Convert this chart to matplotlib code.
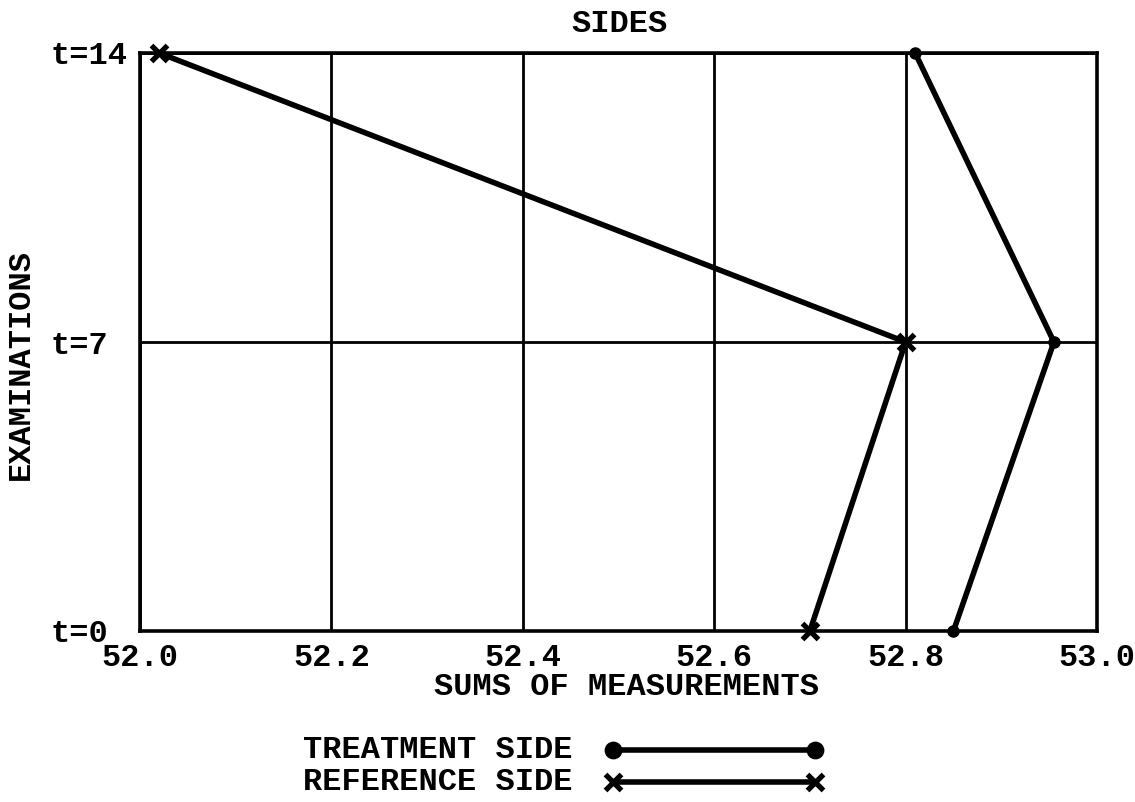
import numpy as np
import matplotlib
matplotlib.use('Agg')
import matplotlib.pyplot as plt
from matplotlib.lines import Line2D

# 各次检查的求和测量值
exam_t = [0, 7, 14]
exam_labels = ['t=0', 't=7', 't=14']
treatment_side = [52.85, 52.955, 52.81]
reference_side = [52.70, 52.80, 52.02]
x_ticks = [52.0, 52.2, 52.4, 52.6, 52.8, 53.0]

plt.rcParams['font.family'] = ['Liberation Mono', 'DejaVu Sans Mono']
plt.rcParams['font.weight'] = 'bold'
FS = 23

W, H = 1135, 802
fig = plt.figure(figsize=(W / 100, H / 100), dpi=100)
ax = fig.add_axes([140 / W, 1 - 631 / H, 957 / W, 578 / H])

ax.plot(treatment_side, exam_t, color='black', lw=4, marker='o', ms=8,
        clip_on=False, zorder=5)
ax.plot(reference_side, exam_t, color='black', lw=4, marker='x', ms=12,
        mew=3.8, clip_on=False, zorder=5)

ax.set_xlim(52.0, 53.0)
ax.set_ylim(0, 14)
ax.set_xticks(x_ticks)
ax.set_xticklabels([f'{v:.1f}' for v in x_ticks], fontsize=FS)
ax.set_yticks(exam_t)
ax.set_yticklabels(exam_labels, fontsize=FS)
for lab in ax.get_yticklabels():
    lab.set_horizontalalignment('left')
ax.tick_params(axis='x', length=0, pad=9)
ax.tick_params(axis='y', length=0, pad=64.5)
ax.grid(True, color='black', lw=2)
for s in ax.spines.values():
    s.set_linewidth(2.6)
    s.set_color('black')

fig.text(620 / W, 1 - 24 / H, 'SIDES', ha='center', va='center', fontsize=FS)
fig.text(627 / W, 1 - 687 / H, 'SUMS OF MEASUREMENTS', ha='center', va='center', fontsize=FS)
fig.text(21 / W, 1 - 365 / H, 'EXAMINATIONS', ha='center', va='center',
         rotation=90, fontsize=FS)

# 图例
legend_rows = [('TREATMENT SIDE', 'o', 750), ('REFERENCE SIDE', 'x', 782)]
for label, mk, yy in legend_rows:
    fig.text(303 / W, 1 - yy / H, label, ha='left', va='center', fontsize=FS)
    fig.add_artist(Line2D([613 / W, 815 / W], [1 - yy / H, 1 - yy / H],
                          color='black', lw=4, marker=mk,
                          ms=9 if mk == 'o' else 12, mew=3.8))

fig.savefig('out.png', dpi=100)
